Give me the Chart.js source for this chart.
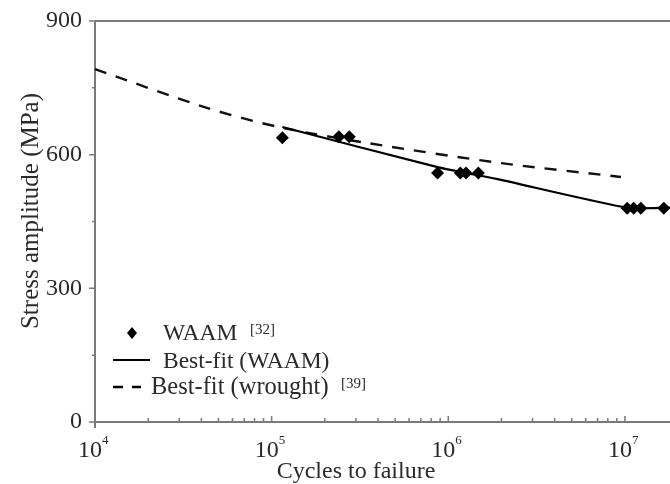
<!DOCTYPE html>
<html>
<head>
<meta charset="utf-8">
<script src="https://cdn.jsdelivr.net/npm/chart.js@4"></script>
<style>
  html, body { margin: 0; padding: 0; background: #fff; }
  #wrap { width: 670px; height: 484px; }
</style>
</head>
<body>
<div id="wrap"><canvas id="snChart" width="670" height="484"></canvas></div>
<script>
// WAAM test data [32]
const waamCycles = [1.15e5, 2.4e5, 2.75e5, 8.7e5, 1.17e6, 1.26e6, 1.48e6, 1.03e7, 1.12e7, 1.23e7, 1.66e7];
const waamStress = [638, 640, 640, 559, 559, 559, 559, 480, 480, 480, 480];

// best-fit (WAAM)
const fitWaamCycles = [1.15e5, 8.7e5, 1.9e6, 1.03e7, 1.8e7];
const fitWaamStress = [662, 572, 545, 481, 481];

// best-fit (wrought) [39]
const wroughtCycles = [1e4, 4.3e4, 1.1e5, 3.5e5, 2e6, 9.5e6];
const wroughtStress = [792, 705, 662, 626, 581, 550];

const yTicks = [0, 300, 600, 900];
const yMinorTicks = [150, 450, 750];
const xDecades = [1e4, 1e5, 1e6, 1e7];
const xExponents = ['4', '5', '6', '7'];

const serif = '"Liberation Serif", "DejaVu Serif", serif';
const axisColor = '#7a7a7a';
const textColor = '#2a2a2a';

function pts(xs, ys) {
  return xs.map((x, i) => ({ x: x, y: ys[i] }));
}

// axes, ticks, labels, legend drawn by hand
const paperAxes = {
  id: 'paperAxes',
  beforeDatasetsDraw(chart) {
    const { ctx, chartArea: a, scales: { x, y } } = chart;
    const right = chart.width;
    ctx.save();
    ctx.strokeStyle = axisColor;
    ctx.lineWidth = 2;
    ctx.beginPath();
    ctx.moveTo(a.left, a.top); ctx.lineTo(right, a.top);
    ctx.moveTo(a.left, a.top); ctx.lineTo(a.left, a.bottom + 6);
    ctx.moveTo(a.left, a.bottom); ctx.lineTo(right, a.bottom);
    ctx.stroke();

    // y ticks (outside)
    ctx.lineWidth = 1.5;
    ctx.beginPath();
    yTicks.forEach(v => { const p = y.getPixelForValue(v); ctx.moveTo(a.left - 6, p); ctx.lineTo(a.left, p); });
    yMinorTicks.forEach(v => { const p = y.getPixelForValue(v); ctx.moveTo(a.left - 3, p); ctx.lineTo(a.left, p); });
    // x ticks (inside)
    xDecades.forEach(d => {
      for (let m = 1; m <= 9; m++) {
        const v = d * m;
        if (v > x.max) break;
        const p = x.getPixelForValue(v);
        const len = m === 1 ? 6 : 4;
        ctx.moveTo(p, a.bottom); ctx.lineTo(p, a.bottom - len);
      }
    });
    ctx.stroke();
    ctx.restore();
  },
  afterDraw(chart) {
    const { ctx, chartArea: a, scales: { x, y } } = chart;
    ctx.save();
    ctx.fillStyle = textColor;

    // y tick labels
    ctx.font = '24px ' + serif;
    ctx.textAlign = 'right';
    ctx.textBaseline = 'middle';
    yTicks.forEach(v => ctx.fillText(String(v), a.left - 13, y.getPixelForValue(v)));

    // x tick labels 10^n
    xDecades.forEach((d, i) => {
      const p = x.getPixelForValue(d);
      ctx.font = '24px ' + serif;
      ctx.textAlign = 'right';
      ctx.textBaseline = 'middle';
      ctx.fillText('10', p + 7, 451);
      ctx.font = '13px ' + serif;
      ctx.textAlign = 'left';
      ctx.fillText(xExponents[i], p + 7, 441);
    });

    // axis titles
    ctx.font = '24px ' + serif;
    ctx.textAlign = 'center';
    ctx.textBaseline = 'middle';
    ctx.fillText('Cycles to failure', 356, 472);
    ctx.save();
    ctx.translate(31, 211);
    ctx.rotate(-Math.PI / 2);
    ctx.font = '25px ' + serif;
    ctx.fillText('Stress amplitude (MPa)', 0, 0);
    ctx.restore();

    // legend
    ctx.textAlign = 'left';
    ctx.fillStyle = '#000';
    ctx.beginPath();
    ctx.moveTo(132, 327); ctx.lineTo(137, 333); ctx.lineTo(132, 339); ctx.lineTo(127, 333);
    ctx.closePath(); ctx.fill();
    ctx.strokeStyle = '#000';
    ctx.lineWidth = 2.2;
    ctx.beginPath(); ctx.moveTo(113, 360); ctx.lineTo(150, 360); ctx.stroke();
    ctx.lineWidth = 2.6;
    ctx.beginPath();
    ctx.moveTo(113, 387); ctx.lineTo(123, 387);
    ctx.moveTo(132, 387); ctx.lineTo(141, 387);
    ctx.stroke();

    ctx.fillStyle = textColor;
    ctx.font = '23.5px ' + serif;
    ctx.fillText('WAAM', 163, 334);
    ctx.fillText('Best-fit (WAAM)', 163, 362);
    ctx.font = '24.5px ' + serif;
    ctx.fillText('Best-fit (wrought)', 151, 388);
    ctx.font = '15px ' + serif;
    ctx.fillText('[32]', 250, 330);
    ctx.fillText('[39]', 341, 384);
    ctx.restore();
  }
};

new Chart(document.getElementById('snChart'), {
  type: 'scatter',
  data: {
    datasets: [
      {
        label: 'WAAM [32]',
        data: pts(waamCycles, waamStress),
        pointStyle: 'rectRot',
        pointRadius: 6.5,
        backgroundColor: '#000',
        borderColor: '#000',
        borderWidth: 0,
        showLine: false,
        order: 1
      },
      {
        label: 'Best-fit (WAAM)',
        data: pts(fitWaamCycles, fitWaamStress),
        showLine: true,
        borderColor: '#000',
        borderWidth: 2.2,
        pointRadius: 0,
        tension: 0.2,
        order: 2
      },
      {
        label: 'Best-fit (wrought) [39]',
        data: pts(wroughtCycles, wroughtStress),
        showLine: true,
        borderColor: '#111',
        borderWidth: 2.4,
        borderDash: [12, 10],
        pointRadius: 0,
        tension: 0.3,
        order: 3
      }
    ]
  },
  options: {
    responsive: false,
    animation: false,
    clip: false,
    layout: { autoPadding: false, padding: { top: 21, right: 0, left: 0, bottom: 0 } },
    plugins: {
      legend: { display: false },
      tooltip: { enabled: false }
    },
    scales: {
      x: {
        type: 'logarithmic',
        min: 1e4,
        max: 1.8e7,
        grid: { display: false },
        border: { display: false },
        ticks: { display: false },
        afterFit(scale) { scale.height = 62; }
      },
      y: {
        min: 0,
        max: 900,
        grid: { display: false },
        border: { display: false },
        ticks: { display: false },
        afterFit(scale) { scale.width = 95; }
      }
    }
  },
  plugins: [paperAxes]
});
</script>
</body>
</html>
